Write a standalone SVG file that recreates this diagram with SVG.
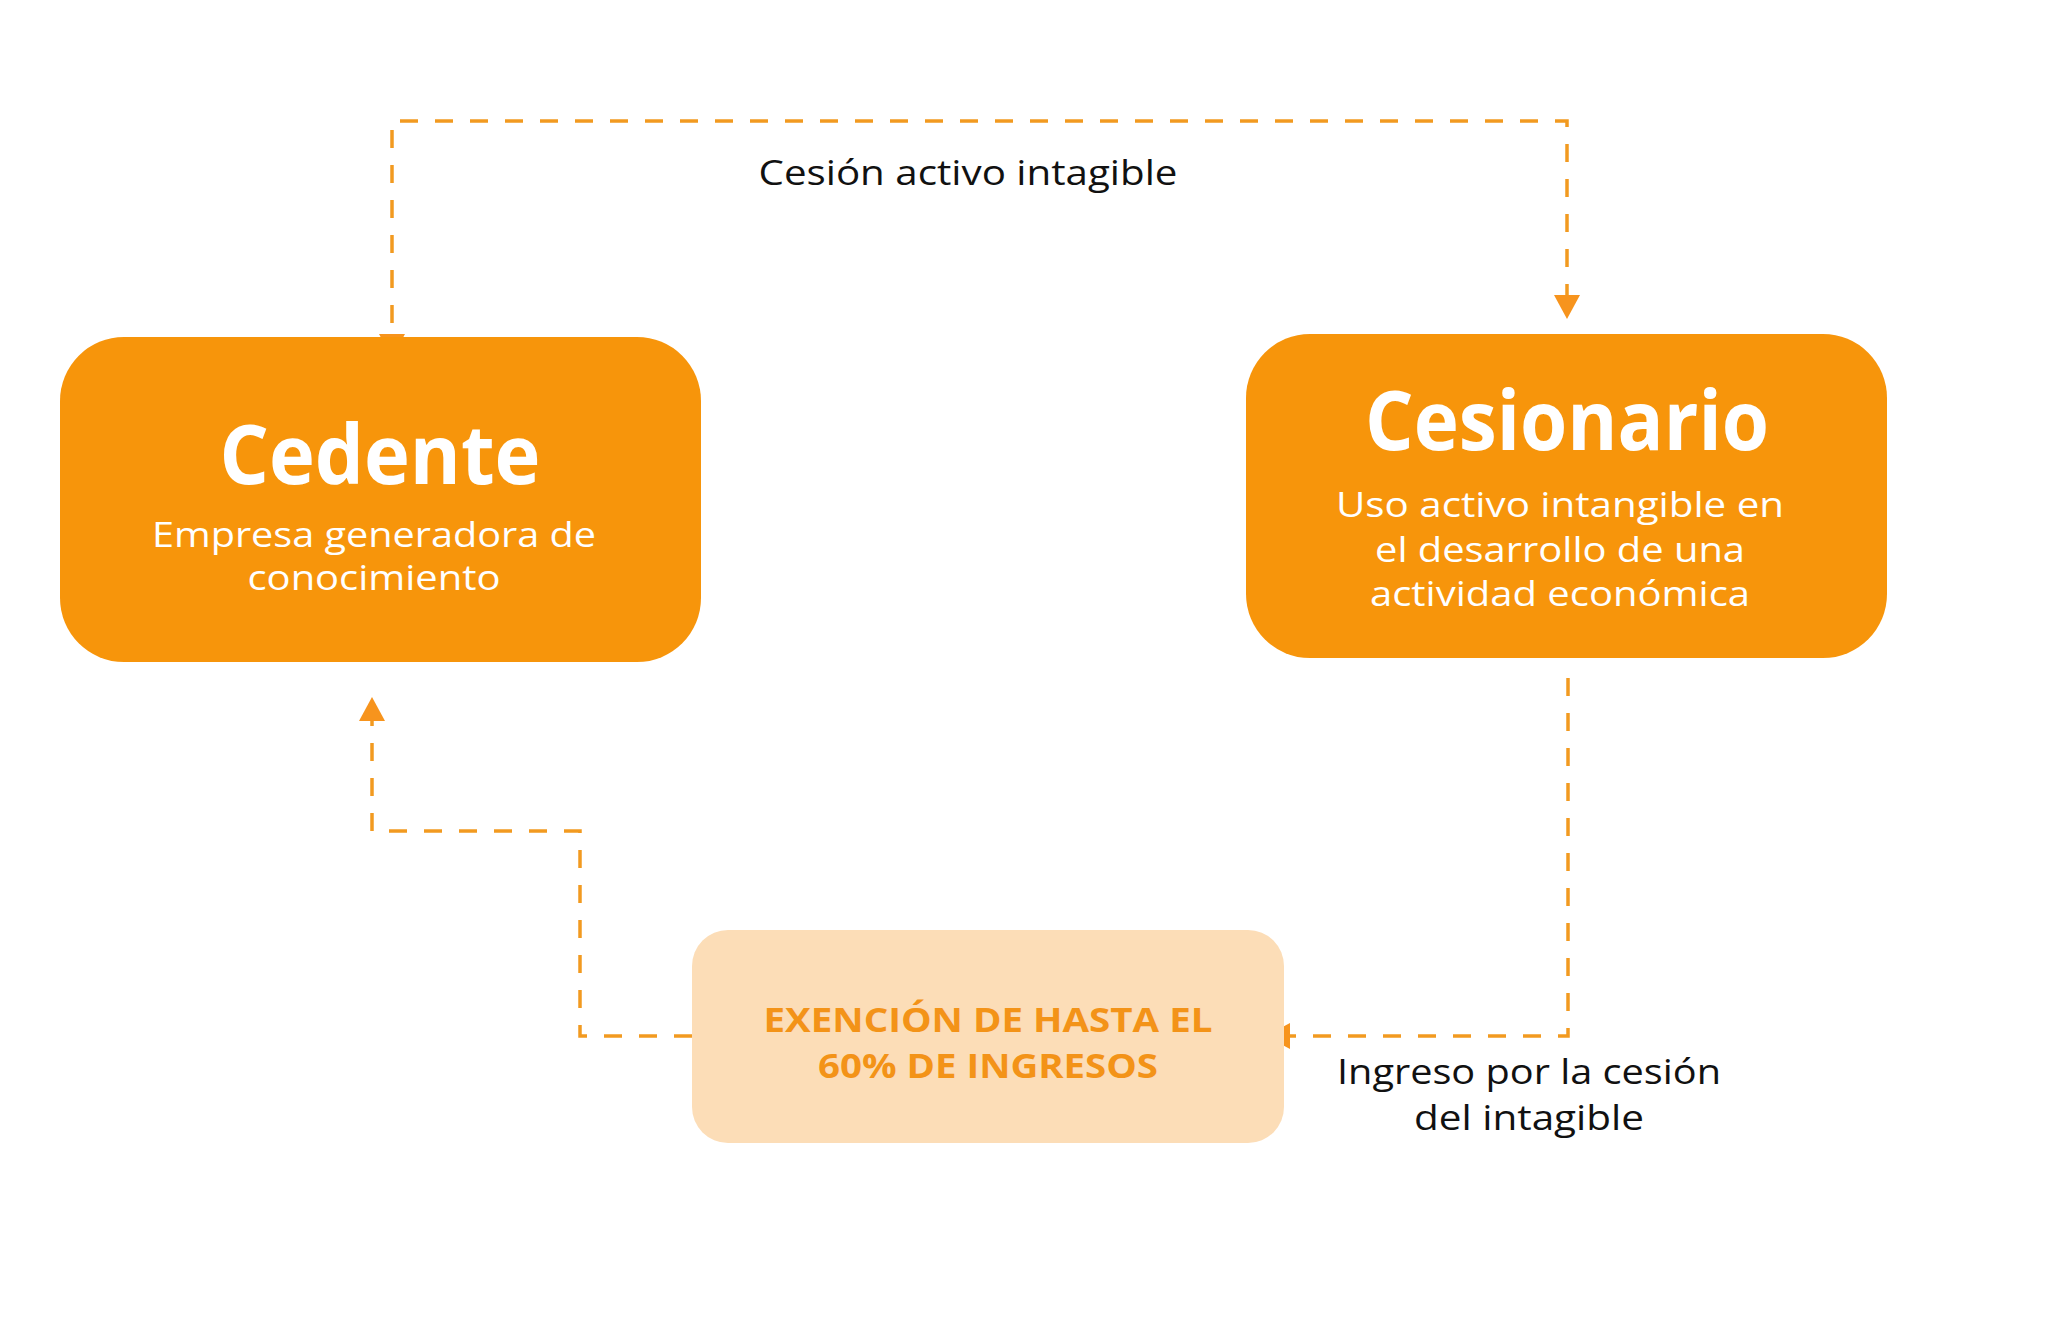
<svg xmlns="http://www.w3.org/2000/svg" width="2048" height="1328" viewBox="0 0 2048 1328">
<style>
.conn{fill:none;stroke:#F29A20;stroke-width:3.5;stroke-dasharray:18 17}
.main{fill:#F7950B}
.title{font-family:"Open Sans",Lato,sans-serif;font-weight:700;fill:#FFFFFF;text-anchor:middle;font-size:82px}
.sub{font-family:"Open Sans",Lato,sans-serif;font-weight:400;fill:#FFFFFF;text-anchor:middle;font-size:34px}
.lbl{font-family:"Open Sans",Lato,sans-serif;font-weight:400;fill:#111111;text-anchor:middle;font-size:35px}
.ex{font-family:"Open Sans",Lato,sans-serif;font-weight:700;fill:#F39318;text-anchor:middle;font-size:34px}
</style>
<defs>
<marker id="arr" markerUnits="userSpaceOnUse" viewBox="0 0 24 26" markerWidth="24" markerHeight="26" refX="24" refY="13" orient="auto-start-reverse">
<path d="M0,0 L24,13 L0,26 Z" fill="#F7941D"/>
</marker>
</defs>
<rect width="2048" height="1328" fill="#FFFFFF"/>
<g id="connectors">
<path class="conn" d="M392,358 V121 H1567 V319" marker-start="url(#arr)" marker-end="url(#arr)"/>
<path class="conn" d="M1568,678 V1036 H1266" marker-end="url(#arr)"/>
<path class="conn" d="M692,1036 H580 V831 H372 V697" marker-end="url(#arr)"/>
</g>
<g id="label-cesion">
<text class="lbl" x="968" y="185" textLength="419" lengthAdjust="spacingAndGlyphs">Cesión activo intagible</text>
</g>
<g id="label-ingreso">
<text class="lbl" x="1529" y="1084" textLength="384" lengthAdjust="spacingAndGlyphs">Ingreso por la cesión</text>
<text class="lbl" x="1529" y="1130" textLength="230" lengthAdjust="spacingAndGlyphs">del intagible</text>
</g>
<g id="node-cedente">
<rect class="main" x="60" y="337" width="641" height="325" rx="64" ry="64"/>
<text class="title" x="380" y="484" textLength="321" lengthAdjust="spacingAndGlyphs">Cedente</text>
<text class="sub" x="374" y="547" textLength="444" lengthAdjust="spacingAndGlyphs">Empresa generadora de</text>
<text class="sub" x="374" y="590" textLength="253" lengthAdjust="spacingAndGlyphs">conocimiento</text>
</g>
<g id="node-cesionario">
<rect class="main" x="1246" y="334" width="641" height="324" rx="64" ry="64"/>
<text class="title" x="1567" y="450" textLength="404" lengthAdjust="spacingAndGlyphs">Cesionario</text>
<text class="sub" x="1560" y="517" textLength="448" lengthAdjust="spacingAndGlyphs">Uso activo intangible en</text>
<text class="sub" x="1560" y="562" textLength="370" lengthAdjust="spacingAndGlyphs">el desarrollo de una</text>
<text class="sub" x="1560" y="606" textLength="380" lengthAdjust="spacingAndGlyphs">actividad económica</text>
</g>
<g id="node-exencion">
<rect x="692" y="930" width="592" height="213" rx="36" ry="36" fill="#FCDDB7"/>
<text class="ex" x="988" y="1032" textLength="449" lengthAdjust="spacingAndGlyphs">EXENCIÓN DE HASTA EL</text>
<text class="ex" x="988" y="1078" textLength="340" lengthAdjust="spacingAndGlyphs">60% DE INGRESOS</text>
</g>
</svg>
